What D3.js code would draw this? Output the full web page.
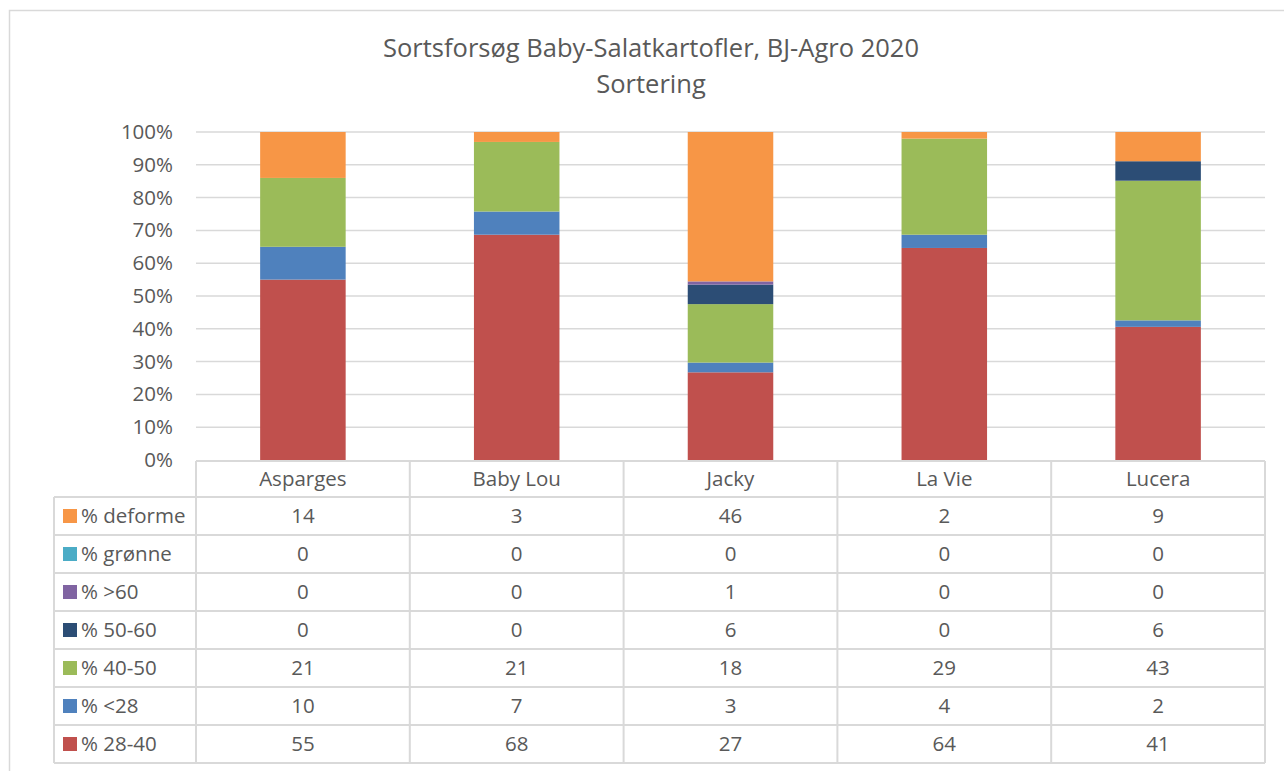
<!DOCTYPE html>
<html>
<head>
	<meta charset="utf-8">
	<script src="https://cdn.jsdelivr.net/npm/d3@7"></script>
	<style>
		body { margin: 0; background: #fff; }
		text { font-family: "Open Sans", "Noto Sans", sans-serif; fill: #595959; }
	</style>
</head>
<body>
	<script>

		// data
		var categories = ['Asparges', 'Baby Lou', 'Jacky', 'La Vie', 'Lucera'];
		// series in stacking order, bottom to top
		var seriesNames = ['% 28-40', '% <28', '% 40-50', '% 50-60', '% >60', '% grønne', '% deforme'];
		var seriesColors = ['#C0504D', '#4F81BD', '#9BBB59', '#2C4D75', '#8064A2', '#4BACC6', '#F79646'];
		var v2840 = [55, 68, 27, 64, 41];
		var vUnder28 = [10, 7, 3, 4, 2];
		var v4050 = [21, 21, 18, 29, 43];
		var v5060 = [0, 0, 6, 0, 6];
		var vOver60 = [0, 0, 1, 0, 0];
		var vGronne = [0, 0, 0, 0, 0];
		var vDeforme = [14, 3, 46, 2, 9];
		var yTicks = [0, 0.1, 0.2, 0.3, 0.4, 0.5, 0.6, 0.7, 0.8, 0.9, 1];

		var seriesValues = [v2840, vUnder28, v4050, v5060, vOver60, vGronne, vDeforme];

		var rows = categories.map(function(c, i) {
			var r = {cat: c};
			seriesNames.forEach(function(s, j) { r[s] = seriesValues[j][i]; });
			return r;
		});

		var width = 1284, height = 771;
		var plot = {left: 196, right: 1265, top: 132, bottom: 460};
		var tableLeft = 54, rowH = 38;
		var fontSize = '20.5px';

		var svg = d3.select('body').append('svg')
			.attr('width', width)
			.attr('height', height);

		// chart border
		svg.append('rect')
			.attr('x', 9.5).attr('y', 10.5)
			.attr('width', 1290).attr('height', 780)
			.attr('fill', 'none')
			.attr('stroke', '#d9d9d9')
			.attr('stroke-width', 1.5);

		// title
		var title = svg.append('text')
			.attr('text-anchor', 'middle')
			.attr('x', 651)
			.style('font-size', '25.5px');
		title.append('tspan').attr('x', 651).attr('y', 57).text('Sortsforsøg Baby-Salatkartofler, BJ-Agro 2020');
		title.append('tspan').attr('x', 651).attr('y', 93).text('Sortering');

		// scales
		var xScale = d3.scaleBand()
			.domain(categories)
			.range([plot.left, plot.right])
			.paddingInner(0.6)
			.paddingOuter(0.3);

		var cellScale = d3.scaleBand()
			.domain(categories)
			.range([plot.left, plot.right]);

		var yScale = d3.scaleLinear()
			.domain([0, 1])
			.range([plot.bottom, plot.top]);

		// gridlines
		svg.append('g')
			.selectAll('line')
			.data(yTicks.slice(1))
			.enter()
			.append('line')
			.attr('x1', plot.left)
			.attr('x2', plot.right)
			.attr('y1', function(d) { return yScale(d); })
			.attr('y2', function(d) { return yScale(d); })
			.attr('stroke', '#d9d9d9')
			.attr('stroke-width', 1.5);

		// y axis labels
		var yAxis = svg.append('g')
			.attr('transform', 'translate(' + (plot.left - 23) + ',0)')
			.call(d3.axisLeft(yScale).tickValues(yTicks).tickFormat(d3.format('.0%')).tickSize(0).tickPadding(0));
		yAxis.select('.domain').remove();
		yAxis.selectAll('text')
			.style('font-size', fontSize)
			.style('font-family', '"Open Sans", sans-serif')
			.attr('fill', '#595959');

		// stacked bars
		var stack = d3.stack()
			.keys(seriesNames)
			.offset(d3.stackOffsetExpand);
		var stacked = stack(rows);

		svg.append('g')
			.selectAll('g')
			.data(stacked)
			.enter()
			.append('g')
			.attr('fill', function(d, i) { return seriesColors[i]; })
			.selectAll('rect')
			.data(function(d) { return d; })
			.enter()
			.append('rect')
			.attr('x', function(d) { return xScale(d.data.cat); })
			.attr('width', xScale.bandwidth())
			.attr('y', function(d) { return yScale(d[1]); })
			.attr('height', function(d) { return yScale(d[0]) - yScale(d[1]); });

		// data table
		var tableTop = plot.bottom + 1;
		var headerBottom = tableTop + 36;
		var tableRows = seriesNames.slice().reverse();
		var tableBottom = headerBottom + tableRows.length * rowH;
		var lineColor = '#d9d9d9';
		var table = svg.append('g');

		// horizontal lines
		table.append('line')
			.attr('x1', plot.left).attr('x2', plot.right)
			.attr('y1', tableTop).attr('y2', tableTop);
		for (var k = 0; k <= tableRows.length; k++) {
			table.append('line')
				.attr('x1', tableLeft).attr('x2', plot.right)
				.attr('y1', headerBottom + k * rowH).attr('y2', headerBottom + k * rowH);
		}
		// vertical lines
		table.append('line')
			.attr('x1', tableLeft).attr('x2', tableLeft)
			.attr('y1', headerBottom).attr('y2', tableBottom);
		categories.forEach(function(c) {
			table.append('line')
				.attr('x1', cellScale(c)).attr('x2', cellScale(c))
				.attr('y1', tableTop).attr('y2', tableBottom);
		});
		table.append('line')
			.attr('x1', plot.right).attr('x2', plot.right)
			.attr('y1', tableTop).attr('y2', tableBottom);
		table.selectAll('line')
			.attr('stroke', lineColor)
			.attr('stroke-width', 2);

		// header labels
		table.selectAll('text.head')
			.data(categories)
			.enter()
			.append('text')
			.attr('class', 'head')
			.attr('x', function(d) { return cellScale(d) + cellScale.bandwidth() / 2; })
			.attr('y', (tableTop + headerBottom) / 2)
			.attr('dy', '0.35em')
			.attr('text-anchor', 'middle')
			.style('font-size', fontSize)
			.text(function(d) { return d; });

		// rows
		tableRows.forEach(function(s, r) {
			var j = seriesNames.indexOf(s);
			var cy = headerBottom + r * rowH + rowH / 2;
			table.append('rect')
				.attr('x', 63).attr('y', cy - 7)
				.attr('width', 14).attr('height', 14)
				.attr('fill', seriesColors[j]);
			table.append('text')
				.attr('x', 81).attr('y', cy)
				.attr('dy', '0.35em')
				.style('font-size', fontSize)
				.text(s);
			categories.forEach(function(c, i) {
				table.append('text')
					.attr('x', cellScale(c) + cellScale.bandwidth() / 2)
					.attr('y', cy)
					.attr('dy', '0.35em')
					.attr('text-anchor', 'middle')
					.style('font-size', fontSize)
					.text(seriesValues[j][i]);
			});
		});

	</script>
</body>
</html>
